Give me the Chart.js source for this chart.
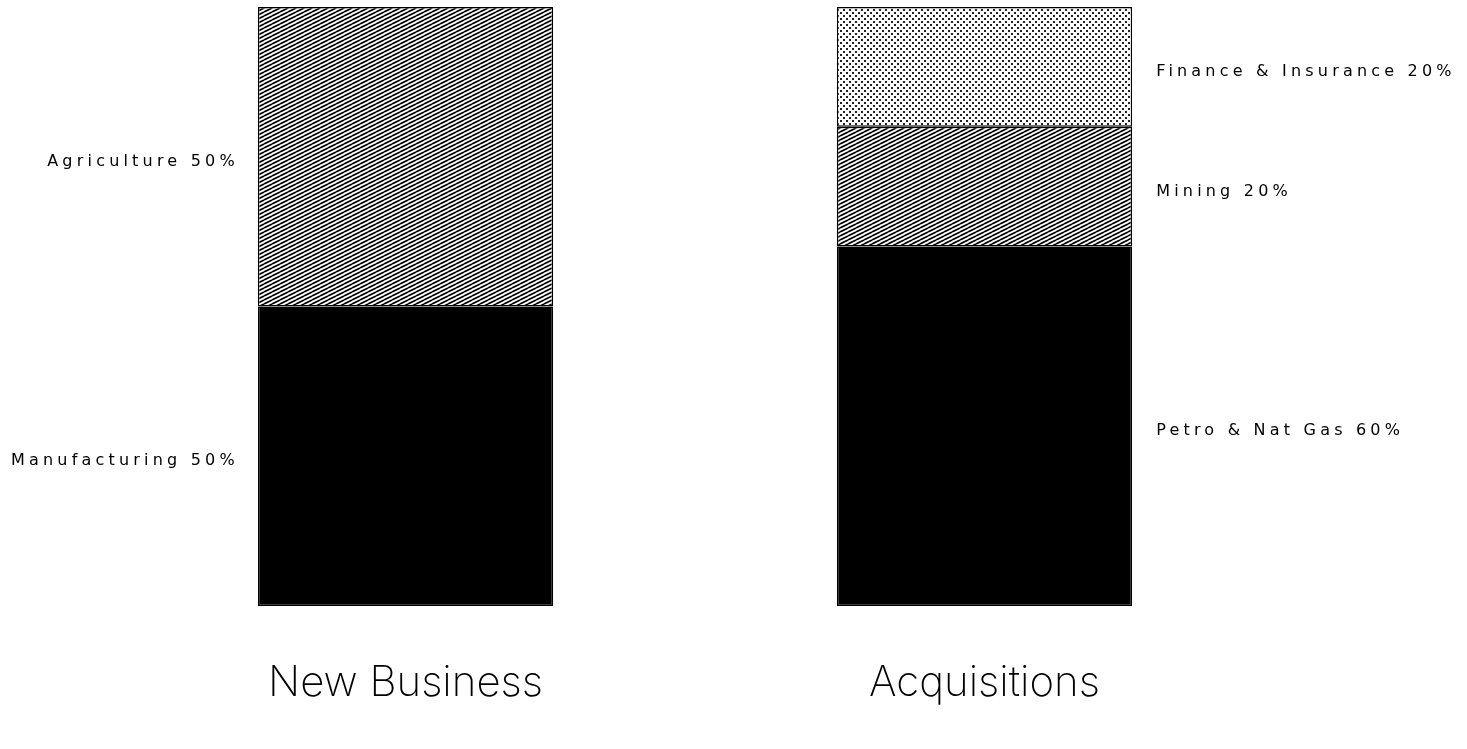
<!DOCTYPE html>
<html>
<head>
<meta charset="utf-8">
<script src="https://cdn.jsdelivr.net/npm/chart.js@4"></script>
<style>
  html, body { margin: 0; padding: 0; background: #fff; }
  #wrap { width: 1467px; height: 749px; }
</style>
</head>
<body>
<div id="wrap"><canvas id="chart"></canvas></div>
<script>
const categories = ['New Business', 'Acquisitions'];

const bottomNames = ['Manufacturing', 'Petro & Nat Gas'];
const bottomValues = [50, 60];

const middleNames = ['Agriculture', 'Mining'];
const middleValues = [50, 20];

const topNames = [null, 'Finance & Insurance'];
const topValues = [null, 20];

const makeHatch = () => {
    const w = 8, h = 4;
    const c = document.createElement('canvas');
    c.width = w; c.height = h;
    const ctx = c.getContext('2d');
    ctx.fillStyle = '#fff';
    ctx.fillRect(0, 0, w, h);
    ctx.strokeStyle = '#000';
    ctx.lineWidth = 1.7;
    [-h, 0, h].forEach(dy => {
        ctx.beginPath();
        ctx.moveTo(0, h + dy);
        ctx.lineTo(w, dy);
        ctx.stroke();
    });
    return ctx.createPattern(c, 'repeat');
};

const makeDots = () => {
    const c = document.createElement('canvas');
    c.width = 6; c.height = 6;
    const ctx = c.getContext('2d');
    ctx.fillStyle = '#fff';
    ctx.fillRect(0, 0, 6, 6);
    ctx.fillStyle = '#222';
    ctx.fillRect(0, 0, 2, 2);
    ctx.fillRect(3, 3, 2, 2);
    return ctx.createPattern(c, 'repeat');
};

const hatch = makeHatch();
const dots = makeDots();

const segmentLabels = {
    id: 'segmentLabels',
    afterDatasetsDraw(chart) {
        const { ctx } = chart;
        ctx.save();
        ctx.font = '16px "DejaVu Sans"';
        ctx.letterSpacing = '4.2px';
        ctx.fillStyle = '#000';
        ctx.textBaseline = 'middle';
        chart.data.datasets.forEach((ds, di) => {
            const meta = chart.getDatasetMeta(di);
            meta.data.forEach((bar, i) => {
                const v = ds.data[i];
                if (!v) return;
                const text = `${ds.names[i]} ${v}%`;
                const y = (bar.y + bar.base) / 2 + 5;
                const half = bar.width / 2;
                if (i === 0) {
                    ctx.textAlign = 'right';
                    ctx.fillText(text, bar.x - half - 19, y);
                } else {
                    ctx.textAlign = 'left';
                    ctx.fillText(text, bar.x + half + 24, y);
                }
            });
        });
        ctx.restore();
    }
};

const common = {
    borderColor: '#000',
    borderWidth: 1.5,
    borderSkipped: false,
    barPercentage: 1,
    categoryPercentage: 0.51
};

new Chart(document.getElementById('chart'), {
    type: 'bar',
    data: {
        labels: categories,
        datasets: [
            { ...common, data: bottomValues, names: bottomNames, backgroundColor: '#000' },
            { ...common, data: middleValues, names: middleNames, backgroundColor: hatch },
            { ...common, data: topValues, names: topNames, backgroundColor: dots }
        ]
    },
    options: {
        responsive: true,
        maintainAspectRatio: false,
        animation: false,
        layout: { padding: { left: 116, right: 193, top: 7, bottom: 0 } },
        plugins: {
            legend: { display: false },
            tooltip: { enabled: false }
        },
        scales: {
            x: {
                stacked: true,
                grid: { display: false },
                border: { display: false },
                afterFit: (scale) => { scale.height = 143; },
                ticks: {
                    color: '#000',
                    padding: 48,
                    font: { family: 'Inter', size: 42, weight: '200', lineHeight: 1 }
                }
            },
            y: {
                stacked: true,
                display: false,
                min: 0,
                max: 100
            }
        }
    },
    plugins: [segmentLabels]
});
</script>
</body>
</html>
